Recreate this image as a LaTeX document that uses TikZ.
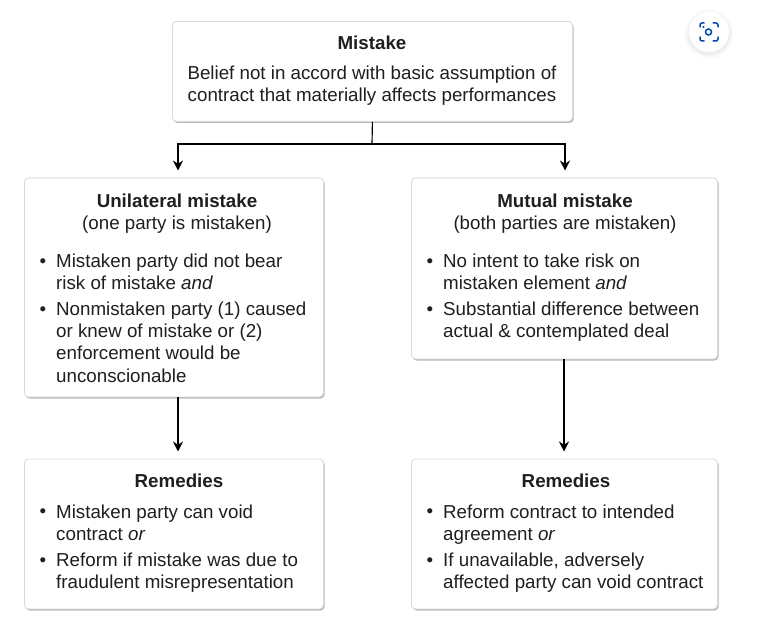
\documentclass[tikz,border=0pt]{standalone}
\usepackage{fontspec}
\setmainfont{Liberation Sans}
\usetikzlibrary{arrows.meta,shadows,calc}
\newcommand{\bitem}[1]{\makebox[0pt][r]{\raisebox{0.5pt}{\textbullet}\hspace{10pt}}#1}
\tikzset{
  px/.style={x=1pt,y=-1pt},
  card/.style={draw=black!14,line width=0.8pt,rounded corners=4pt,fill=white,inner sep=0,anchor=north west,
    drop shadow={shadow xshift=1.2pt,shadow yshift=-1.6pt,fill=black!55,opacity=.5}},
  txt/.style={inner sep=0,font=\fontsize{18.75}{22.1}\selectfont,text=black!88,anchor=north west,align=left},
  ctr/.style={inner sep=0,font=\fontsize{18.75}{22.1}\selectfont,text=black!88,align=center},
  conn/.style={draw=black,line width=1.15pt,-{Stealth[length=10pt,width=10pt]},shorten >=7pt},
  lens/.style={draw=blue!60!cyan!70!black,line width=1.5pt,line cap=round},
}
\begin{document}
\begin{tikzpicture}[px]
\useasboundingbox (0,0) rectangle (778,617);
\fill[white] (0,0) rectangle (778,617);
\node[card,minimum width=400pt,minimum height=100pt] (top) at (172,21) {};
\node[card,minimum width=299pt,minimum height=219pt] (ul) at (24,177.5) {};
\node[card,minimum width=306pt,minimum height=181pt] (mm) at (411,177.5) {};
\node[card,minimum width=299pt,minimum height=150pt] (rl) at (24,458.5) {};
\node[card,minimum width=306pt,minimum height=150pt] (rr) at (411,458.5) {};
\coordinate (j) at (372,144);
\coordinate (ja) at (178,177.5);
\coordinate (jb) at (565,177.5);
\coordinate (ka) at (178,397);
\coordinate (kb) at (178,458.5);
\coordinate (la) at (564,359);
\coordinate (lb) at (564,458.5);
\draw[draw=black,line width=1.15pt] (top.south) -- (j);
\draw[conn] (j) -| (ja);
\draw[conn] (j) -| (jb);
\draw[conn] (ka) -- (kb);
\draw[conn] (la) -- (lb);
\node[ctr] (t1) at (372,43) {\textbf{Mistake}};
\node[ctr] (t2) at (372,85.5) {Belief not in accord with basic assumption of\\contract that materially affects performances};
\node[ctr] (u1) at (177,214) {\textbf{Unilateral mistake}\\(one party is mistaken)};
\node[txt] (u2) at (56,254) {\bitem{Mistaken party did not bear}\\risk of mistake \textit{and}};
\node[txt] (u3) at (56,302) {\bitem{Nonmistaken party (1) caused}\\or knew of mistake or (2)\\enforcement would be\\unconscionable};
\node[ctr] (m1) at (565,214) {\textbf{Mutual mistake}\\(both parties are mistaken)};
\node[txt] (m2) at (443,254) {\bitem{No intent to take risk on}\\mistaken element \textit{and}};
\node[txt] (m3) at (443,302) {\bitem{Substantial difference between}\\actual \& contemplated deal};
\node[ctr] (r1) at (179,481) {\textbf{Remedies}};
\node[txt] (r2) at (56,504.5) {\bitem{Mistaken party can void}\\contract \textit{or}};
\node[txt] (r3) at (56,553) {\bitem{Reform if mistake was due to}\\fraudulent misrepresentation};
\node[ctr] (s1) at (566,481) {\textbf{Remedies}};
\node[txt] (s2) at (443,504.5) {\bitem{Reform contract to intended}\\agreement \textit{or}};
\node[txt] (s3) at (443,553) {\bitem{If unavailable, adversely}\\affected party can void contract};
% lens button
\foreach \r/\o in {25/.008,24/.01,23/.012,22/.015,21/.02}{\fill[black,opacity=\o] (709,34) circle[radius=\r pt];}
\fill[white] (709,32) circle[radius=20pt];
\draw[lens] (700,27) -- (700,25) arc[start angle=180,end angle=90,radius=2pt] -- (704,23);
\draw[lens] (713,23) -- (716,23) arc[start angle=90,end angle=0,radius=2pt] -- (718,27);
\draw[lens] (718,37) -- (718,39) arc[start angle=0,end angle=-90,radius=2pt] -- (713,41);
\draw[lens] (704,41) -- (702,41) arc[start angle=270,end angle=180,radius=2pt] -- (700,37);
\draw[lens] (708.5,32) circle[radius=3pt];
\fill[blue!60!cyan!70!black] (703.5,27) circle[radius=1.1pt];
\end{tikzpicture}
\end{document}
